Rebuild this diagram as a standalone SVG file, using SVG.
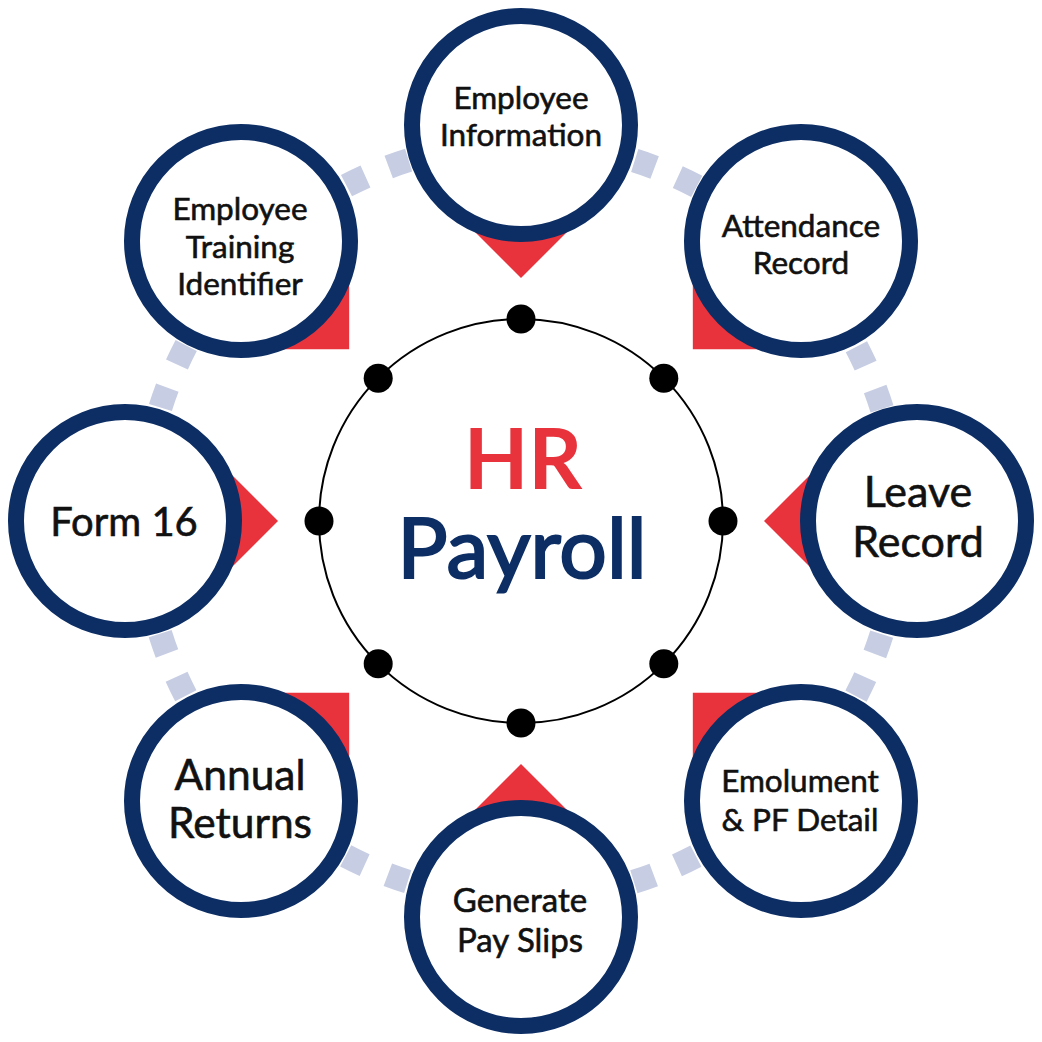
<svg xmlns="http://www.w3.org/2000/svg" xmlns:xlink="http://www.w3.org/1999/xlink" width="1042" height="1042" viewBox="0 0 1042 1042">
  <style>
    .node-ring { fill: #ffffff; stroke: #0c2e64; stroke-width: 16; }
    .ptr { fill: #e8333c; }
    .lbl { font-family: Lato, "Liberation Sans", sans-serif; fill: #111111; stroke: #111111; stroke-width: 0.6; text-anchor: middle; }
    .dot { fill: #000000; }
  </style>
  <defs>
    <path id="ptr" d="M521,278 L443,200 L599,200 Z"/>
  </defs>
  <rect x="0" y="0" width="1042" height="1042" fill="#ffffff"/>

  <g id="connectors">
    <circle cx="521" cy="521" r="378" fill="none" stroke="#c7cde3" stroke-width="24" stroke-dasharray="21 25.15 21 229.73" stroke-dashoffset="182.03"/>
  </g>

  <g id="center">
    <circle cx="521" cy="521" r="202" fill="#ffffff" stroke="#000000" stroke-width="2"/>
    <circle class="dot" cx="521" cy="319" r="14.5"/>
    <circle class="dot" cx="663.8" cy="378.2" r="14.5"/>
    <circle class="dot" cx="723" cy="521" r="14.5"/>
    <circle class="dot" cx="663.8" cy="663.8" r="14.5"/>
    <circle class="dot" cx="521" cy="723" r="14.5"/>
    <circle class="dot" cx="378.2" cy="663.8" r="14.5"/>
    <circle class="dot" cx="319" cy="521" r="14.5"/>
    <circle class="dot" cx="378.2" cy="378.2" r="14.5"/>
    <text x="523" y="489" font-family="Lato, 'Liberation Sans', sans-serif" font-weight="700" font-size="84" fill="#e8333c" text-anchor="middle">HR</text>
    <text x="522" y="578" font-family="Lato, 'Liberation Sans', sans-serif" font-weight="400" font-size="84" fill="#0c2e64" stroke="#0c2e64" stroke-width="2.2" text-anchor="middle">Payroll</text>
  </g>

  <g id="node-employee-information">
    <use xlink:href="#ptr" class="ptr"/>
    <circle class="node-ring" cx="521" cy="125" r="109"/>
    <text class="lbl" font-size="31.5"><tspan x="521" y="109">Employee</tspan><tspan x="521" y="146">Information</tspan></text>
  </g>

  <g id="node-attendance-record">
    <use xlink:href="#ptr" class="ptr" transform="rotate(45 521 521)"/>
    <circle class="node-ring" cx="801" cy="241" r="109"/>
    <text class="lbl" font-size="31.5"><tspan x="801" y="237">Attendance</tspan><tspan x="801" y="274">Record</tspan></text>
  </g>

  <g id="node-leave-record">
    <use xlink:href="#ptr" class="ptr" transform="rotate(90 521 521)"/>
    <circle class="node-ring" cx="917" cy="521" r="109"/>
    <text class="lbl" font-size="43"><tspan x="918" y="507">Leave</tspan><tspan x="918" y="557">Record</tspan></text>
  </g>

  <g id="node-emolument-pf-detail">
    <use xlink:href="#ptr" class="ptr" transform="rotate(135 521 521)"/>
    <circle class="node-ring" cx="801" cy="801" r="109"/>
    <text class="lbl" font-size="31.5"><tspan x="800" y="792">Emolument</tspan><tspan x="800" y="831">&amp; PF Detail</tspan></text>
  </g>

  <g id="node-generate-pay-slips">
    <use xlink:href="#ptr" class="ptr" transform="rotate(180 521 521)"/>
    <circle class="node-ring" cx="521" cy="917" r="109"/>
    <text class="lbl" font-size="33"><tspan x="520" y="912">Generate</tspan><tspan x="520" y="952">Pay Slips</tspan></text>
  </g>

  <g id="node-annual-returns">
    <use xlink:href="#ptr" class="ptr" transform="rotate(225 521 521)"/>
    <circle class="node-ring" cx="241" cy="801" r="109"/>
    <text class="lbl" font-size="42.5"><tspan x="240" y="790">Annual</tspan><tspan x="240" y="838">Returns</tspan></text>
  </g>

  <g id="node-form-16">
    <use xlink:href="#ptr" class="ptr" transform="rotate(270 521 521)"/>
    <circle class="node-ring" cx="125" cy="521" r="109"/>
    <text class="lbl" font-size="40" x="124" y="536">Form 16</text>
  </g>

  <g id="node-employee-training-identifier">
    <use xlink:href="#ptr" class="ptr" transform="rotate(315 521 521)"/>
    <circle class="node-ring" cx="241" cy="241" r="109"/>
    <text class="lbl" font-size="31.5"><tspan x="240" y="220">Employee</tspan><tspan x="240" y="258">Training</tspan><tspan x="240" y="295">Identifier</tspan></text>
  </g>
</svg>
